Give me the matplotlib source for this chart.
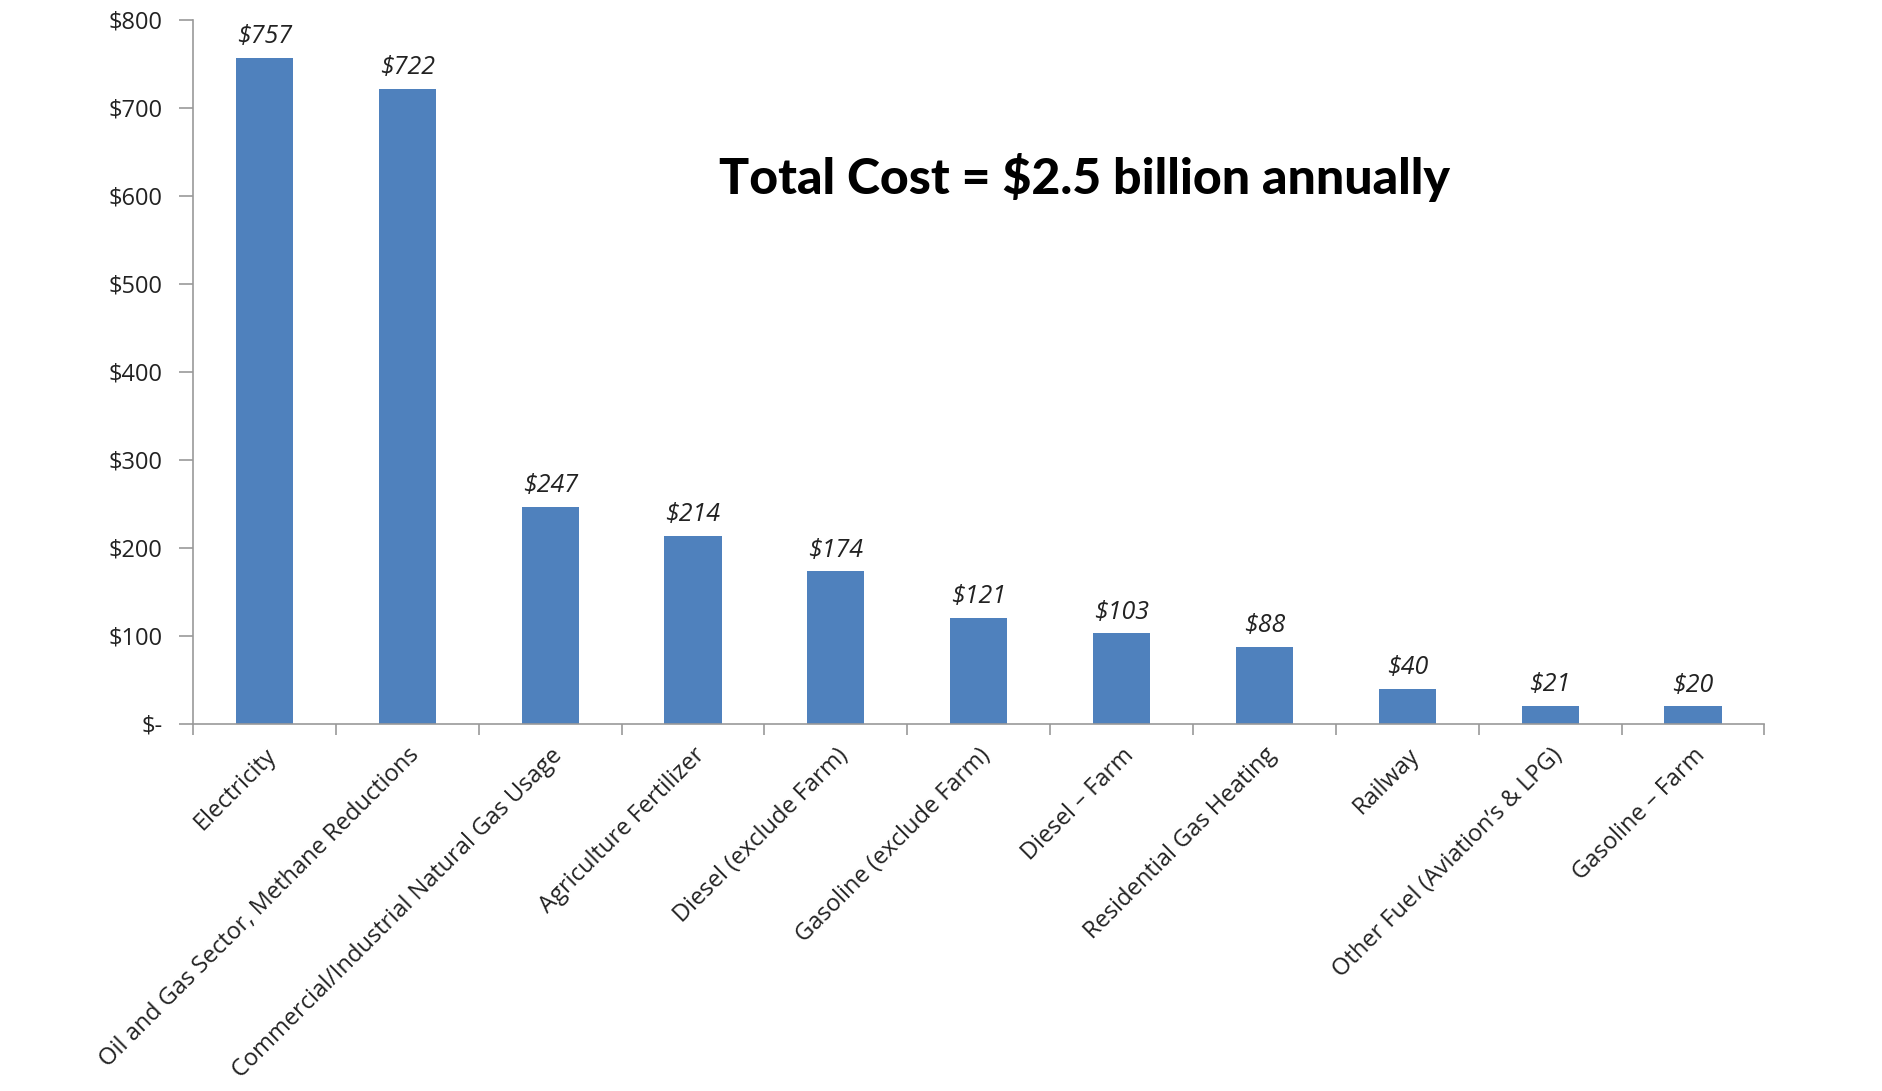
import matplotlib
matplotlib.use("Agg")
import matplotlib.pyplot as plt
import numpy as np

categories = ["Electricity", "Oil and Gas Sector, Methane Reductions",
              "Commercial/Industrial Natural Gas Usage", "Agriculture Fertilizer",
              "Diesel (exclude Farm)", "Gasoline (exclude Farm)", "Diesel \u2013 Farm",
              "Residential Gas Heating", "Railway", "Other Fuel (Aviation\u2019s & LPG)",
              "Gasoline \u2013 Farm"]
values = [757, 722, 247, 214, 174, 121, 103, 88, 40, 21, 20]
yticks = [0, 100, 200, 300, 400, 500, 600, 700, 800]
ytick_labels = ["$-", "$100", "$200", "$300", "$400", "$500", "$600", "$700", "$800"]
title_text = "Total Cost = $2.5 billion annually"

FONT = ["Open Sans", "DejaVu Sans"]

fig = plt.figure(figsize=(18.83, 10.91), dpi=100)
ax = fig.add_axes([0.1025, 0.3364, 0.8345, 0.6453])

x = np.arange(len(categories))
ax.bar(x, values, width=0.40, color="#4F81BD", zorder=2)
ax.set_xlim(-0.5, len(categories) - 0.5)
ax.set_ylim(0, 800)

ax.set_yticks(yticks)
ax.set_yticklabels(ytick_labels, fontsize=17, family=FONT, color="#222222")
ax.tick_params(axis="y", length=10, color="#999999", width=1.2, pad=12)

ax.set_xticks(np.arange(-0.5, len(categories), 1.0), minor=False)
ax.set_xticklabels([])
ax.tick_params(axis="x", length=8, color="#999999", width=1.2)
ax.set_xticks(x, minor=True)
ax.set_xticklabels(categories, minor=True, rotation=45, ha="right",
                   rotation_mode="anchor", fontsize=17, family=FONT, color="#222222")
ax.tick_params(axis="x", which="minor", length=0, pad=14)

for s in ["top", "right"]:
    ax.spines[s].set_visible(False)
for s in ["left", "bottom"]:
    ax.spines[s].set_color("#999999")
    ax.spines[s].set_linewidth(1.2)

for xi, v in zip(x, values):
    ax.annotate(f"${v}", (xi, v), xytext=(0, 6), textcoords="offset points",
                ha="center", va="bottom", fontsize=18, style="italic",
                family=FONT, color="#222222")

fig.text(0.576, 0.837, title_text, ha="center", va="center", fontsize=36,
         fontweight="black", family=["Lato", "DejaVu Sans"], color="black")

fig.savefig("out.png", dpi=100, facecolor="white")
